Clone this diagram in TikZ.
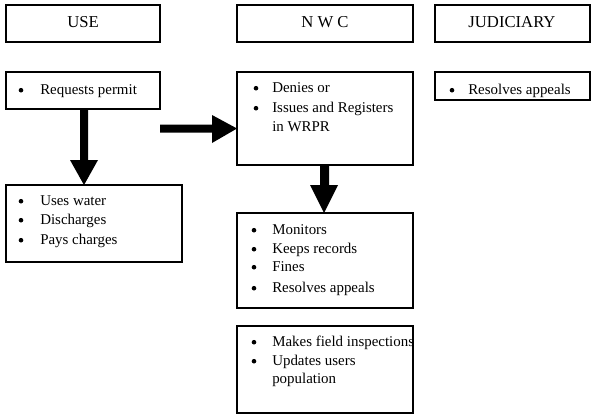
\documentclass[tikz,border=0pt]{standalone}
\usepackage{fontspec}
\setmainfont{Liberation Serif}
\usetikzlibrary{fit,calc}
\tikzset{
  box/.style={draw=black, line width=1pt, inner sep=0pt, fit={#1}},
  head/.style={font=\fontsize{12.5}{14}\selectfont, inner sep=0pt, anchor=base},
  txt/.style={font=\fontsize{11.2}{13}\selectfont, inner sep=0pt, anchor=base west},
  blk/.style={fill=black, draw=none}
}
\newcommand{\bul}[2]{\fill (#1,#2-3.8) circle (2.3);}
\begin{document}
\begin{tikzpicture}[x=0.75pt,y=-0.75pt]
\useasboundingbox (0,0) rectangle (597,418);
% heading boxes
\node[box={(6,5) (160,42)}] (use) {};
\node[box={(237,5) (413,42)}] (nwc) {};
\node[box={(435,5) (590,42)}] (jud) {};
\node[head] (useT) at (83,27) {USE};
\node[head] (nwcT) at (325,27) {N W C};
\node[head] (judT) at (512,27) {JUDICIARY};
% content boxes
\node[box={(6,72) (160,109)}] (req) {};
\node[box={(237,72) (413,165)}] (deny) {};
\node[box={(435,72) (590,100)}] (jres) {};
\node[box={(6,185) (182,262)}] (usew) {};
\node[box={(237,213) (413,308)}] (mon) {};
\node[box={(237,326) (413,413)}] (field) {};
% texts
\bul{21}{94}
\node[txt] (t1) at (40,94) {Requests permit};
\bul{256}{92}
\node[txt] (t2) at (272,92) {Denies or};
\bul{256}{112}
\node[txt] (t3) at (272,112) {Issues and Registers};
\node[txt] (t3b) at (272,131) {in WRPR};
\bul{452}{94}
\node[txt] (t4) at (468,94) {Resolves appeals};
\bul{21}{205}
\node[txt] (t5) at (40,205) {Uses water};
\bul{21}{224}
\node[txt] (t6) at (40,224) {Discharges};
\bul{21}{244}
\node[txt] (t7) at (40,244) {Pays charges};
\bul{254}{234}
\node[txt] (t8) at (272,234) {Monitors};
\bul{254}{253}
\node[txt] (t9) at (272,253) {Keeps records};
\bul{254}{271}
\node[txt] (t10) at (272,271) {Fines};
\bul{254}{292}
\node[txt] (t11) at (272,292) {Resolves appeals};
\bul{254}{346}
\node[txt] (t12) at (272,346) {Makes field inspections};
\bul{254}{365}
\node[txt] (t13) at (272,365) {Updates users};
\node[txt] (t13b) at (272,383) {population};
% block arrows
\coordinate (a1tip) at (84,185);
\fill[blk] (80,109) -- (88,109) -- (88,160) -- (98,160) -- (a1tip) -- (70,160) -- (80,160) -- cycle;
\coordinate (a2start) at (160,128.5);
\coordinate (a2tip) at ($(deny.west)!0!(deny.west)+(0,9.5)$);
\fill[blk] (160,124.5) -- (212,124.5) -- (212,115) -- (237,128.5) -- (212,143) -- (212,132.5) -- (160,132.5) -- cycle;
\fill[blk] (320,165) -- (329,165) -- (329,185) -- (338,185) -- (324,213) -- (310,185) -- (320,185) -- cycle;
\end{tikzpicture}
\end{document}
